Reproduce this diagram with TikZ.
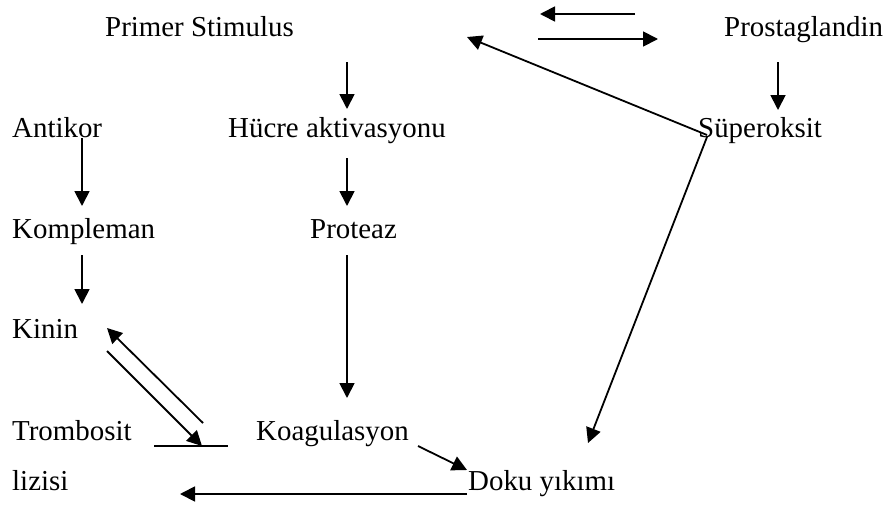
\documentclass[tikz,border=0pt]{standalone}
\usepackage{fontspec}
\setmainfont{Liberation Serif}
\usetikzlibrary{arrows.meta}
\begin{document}
\begin{tikzpicture}[x=1pt,y=-1pt,
  lbl/.style={inner sep=0pt,anchor=base west,font=\fontsize{28.9}{34}\selectfont},
  arr/.style={line width=1.8pt,-{Triangle[length=15pt,width=15pt]}},
  plain/.style={line width=1.8pt}]
\useasboundingbox (0,0) rectangle (888,506);

% labels
\node[lbl] (primer) at (105,36) {Primer Stimulus};
\node[lbl] (prosta) at (724,36) {Prostaglandin};
\node[lbl] (antikor) at (12,137) {Antikor};
\node[lbl] (hucre) at (228,137) {Hücre aktivasyonu};
\node[lbl] (super) at (698,137) {Süperoksit};
\node[lbl] (komp) at (12,238) {Kompleman};
\node[lbl] (proteaz) at (310,238) {Proteaz};
\node[lbl] (kinin) at (12,338) {Kinin};
\node[lbl] (tromb) at (12,440) {Trombosit};
\node[lbl] (koag) at (256,440) {Koagulasyon};
\node[lbl] (lizisi) at (12,490) {lizisi};
\node[lbl] (doku) at (468,490) {Doku yıkımı};

% connector end points
\coordinate (eqL) at (540,14);  \coordinate (eqR) at (635,14);
\coordinate (fwL) at (538,39);  \coordinate (fwR) at (658,39);
\coordinate (prA) at (778,62);  \coordinate (prB) at (778,110);
\coordinate (psA) at (347,62);  \coordinate (psB) at (347,109);
\coordinate (hcA) at (347,158); \coordinate (hcB) at (347,206);
\coordinate (anA) at (82,138);  \coordinate (anB) at (82,206);
\coordinate (kpA) at (82,255);  \coordinate (kpB) at (82,304);
\coordinate (ptA) at (347,255); \coordinate (ptB) at (347,398);
\coordinate (spA) at (707,135); \coordinate (spB) at (467,37);
\coordinate (sdA) at (707,137); \coordinate (sdB) at (588,443);
\coordinate (knA) at (203,423); \coordinate (knB) at (107,328);
\coordinate (tkA) at (107,351); \coordinate (tkB) at (202,446);
\coordinate (barL) at (154,446); \coordinate (barR) at (228,446);
\coordinate (kgA) at (418,446); \coordinate (kgB) at (467,470);
\coordinate (dkA) at (467,494); \coordinate (dkB) at (180,494);

% arrows
\draw[arr] (eqR) -- (eqL);
\draw[arr] (fwL) -- (fwR);
\draw[arr] (prA) -- (prB);
\draw[arr] (psA) -- (psB);
\draw[arr] (hcA) -- (hcB);
\draw[arr] (anA) -- (anB);
\draw[arr] (kpA) -- (kpB);
\draw[arr] (ptA) -- (ptB);
\draw[arr] (spA) -- (spB);
\draw[arr] (sdA) -- (sdB);
\draw[arr] (knA) -- (knB);
\draw[arr] (tkA) -- (tkB);
\draw[plain] (barL) -- (barR);
\draw[arr] (kgA) -- (kgB);
\draw[arr] (dkA) -- (dkB);
\end{tikzpicture}
\end{document}
